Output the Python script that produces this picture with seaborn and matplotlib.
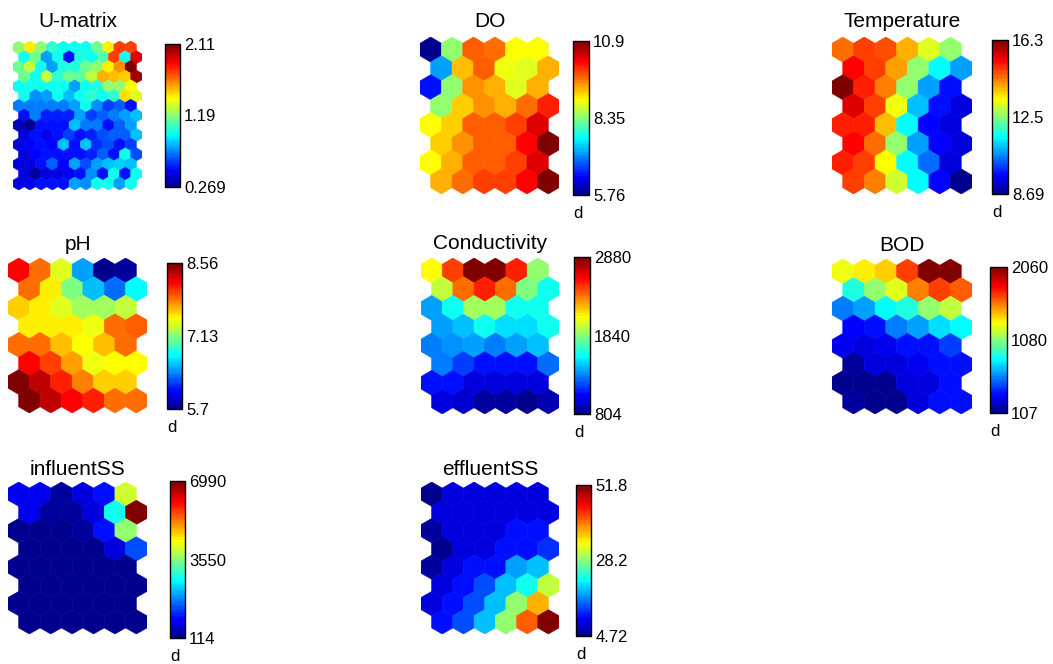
import numpy as np
import matplotlib
matplotlib.use("Agg")
import matplotlib.pyplot as plt
from matplotlib.collections import PolyCollection
from matplotlib.colors import LinearSegmentedColormap, ListedColormap, Normalize
import seaborn as sns

# ---------------- data ----------------
titles = ["U-matrix", "DO", "Temperature", "pH", "Conductivity", "BOD",
          "influentSS", "effluentSS"]

umatrix = [
    [1.19, 1.42, 1.19, 1.04, 0.96, 0.96, 0.96, 1.15, 1.42, 1.74, 1.74],
    [0.96, 1.15, 0.78, 0.96, 0.51, 1.01, 0.96, 1.10, 1.74, 0.96, 1.93],
    [1.15, 1.30, 0.96, 0.78, 1.01, 1.01, 1.15, 1.19, 1.42, 1.61, 2.11],
    [1.15, 0.96, 1.30, 1.04, 1.15, 1.13, 1.28, 1.56, 1.52, 1.48, 2.05],
    [0.96, 0.96, 0.96, 0.96, 0.96, 0.78, 0.96, 1.01, 1.19, 1.19, 1.41],
    [0.96, 0.73, 0.78, 0.96, 0.82, 0.96, 1.04, 0.96, 1.04, 1.45, 1.34],
    [0.71, 0.71, 0.71, 0.71, 0.71, 0.78, 0.96, 0.73, 0.60, 0.67, 0.51],
    [0.51, 0.71, 0.55, 0.55, 0.55, 0.77, 0.60, 0.67, 0.71, 0.77, 0.82],
    [0.36, 0.269, 0.51, 0.51, 0.51, 0.82, 0.71, 0.71, 0.51, 0.67, 0.78],
    [0.42, 0.51, 0.45, 0.51, 0.60, 0.51, 0.55, 0.64, 0.67, 0.67, 0.82],
    [0.43, 0.49, 0.51, 0.49, 0.82, 0.51, 0.82, 0.56, 0.64, 0.51, 0.60],
    [0.43, 0.49, 0.51, 0.51, 0.51, 0.51, 0.55, 0.67, 0.51, 0.96, 0.64],
    [0.43, 0.43, 0.51, 0.67, 0.49, 0.77, 0.64, 0.77, 0.82, 0.86, 0.84],
    [0.43, 0.31, 0.43, 0.43, 0.45, 0.51, 0.75, 0.51, 0.96, 0.51, 0.96],
    [0.43, 0.45, 0.51, 0.51, 0.51, 0.78, 0.75, 0.97, 0.96, 0.78, 0.96],
]

do_vals = [
    [5.76, 8.33, 9.77, 9.62, 8.97, 8.97],
    [7.15, 9.26, 9.77, 8.84, 8.74, 9.36],
    [6.43, 8.33, 9.51, 9.36, 8.74, 9.36],
    [8.33, 9.20, 9.51, 9.36, 9.62, 10.03],
    [8.97, 9.20, 9.77, 9.77, 9.87, 10.39],
    [9.20, 9.51, 9.77, 9.77, 10.23, 10.90],
    [8.97, 9.36, 9.77, 9.77, 9.87, 10.39],
    [9.36, 9.62, 9.87, 9.87, 10.23, 10.85],
]

temperature = [
    [14.4, 14.8, 14.7, 14.0, 13.1, 12.5],
    [15.3, 14.8, 14.1, 12.5, 11.5, 10.8],
    [16.3, 15.0, 14.3, 12.5, 10.8, 9.68],
    [15.5, 14.8, 13.3, 11.0, 9.68, 9.30],
    [15.0, 15.0, 13.9, 11.5, 9.60, 9.30],
    [15.3, 14.4, 12.5, 10.8, 9.60, 9.30],
    [15.0, 14.8, 13.4, 11.5, 10.4, 9.30],
    [14.8, 14.3, 13.0, 11.5, 9.60, 8.69],
]

ph = [
    [8.19, 7.85, 7.36, 6.50, 5.70, 5.76],
    [7.85, 7.50, 7.13, 6.56, 6.33, 6.77],
    [7.62, 7.49, 7.36, 7.19, 7.19, 7.30],
    [7.49, 7.49, 7.49, 7.44, 7.85, 7.90],
    [7.85, 7.85, 7.64, 7.47, 7.64, 7.85],
    [8.19, 7.99, 7.73, 7.44, 7.47, 7.47],
    [8.56, 8.36, 8.07, 7.82, 7.62, 7.62],
    [8.56, 8.36, 8.19, 8.07, 7.85, 7.87],
]

conductivity = [
    [2101, 2465, 2880, 2880, 2527, 1842],
    [1967, 2361, 2527, 2361, 1821, 1583],
    [1385, 1583, 1884, 1884, 1583, 1583],
    [1365, 1448, 1583, 1510, 1510, 1583],
    [1302, 1323, 1365, 1302, 1385, 1448],
    [1302, 1178, 1074, 1074, 1074, 1281],
    [1074, 1074, 970, 970, 970, 970],
    [970, 949, 846, 846, 804, 887],
]

bod = [
    [1279, 1328, 1416, 1669, 2060, 2060],
    [888, 1084, 1259, 1552, 1669, 1630],
    [595, 654, 839, 888, 1084, 1201],
    [322, 361, 576, 654, 771, 839],
    [302, 283, 302, 361, 361, 459],
    [146, 283, 283, 302, 361, 361],
    [115, 107, 125, 283, 283, 361],
    [140, 112, 118, 263, 361, 361],
]

influent_ss = [
    [802, 802, 320, 733, 1008, 4033],
    [802, 320, 320, 733, 2693, 6990],
    [200, 190, 200, 260, 1008, 3552],
    [190, 180, 200, 210, 664, 1489],
    [114, 150, 180, 160, 170, 200],
    [140, 130, 160, 170, 190, 210],
    [150, 140, 170, 160, 180, 200],
    [160, 150, 170, 180, 190, 210],
]

effluent_ss = [
    [4.72, 8.96, 8.96, 8.96, 8.96, 8.96],
    [8.96, 8.96, 8.96, 8.96, 8.96, 8.96],
    [5.66, 8.96, 8.96, 8.96, 10.8, 10.8],
    [5.20, 8.49, 8.49, 10.8, 10.8, 12.7],
    [5.66, 8.96, 10.8, 10.8, 17.4, 19.3],
    [8.49, 10.8, 14.1, 19.3, 23.0, 31.1],
    [8.96, 10.8, 14.1, 19.3, 28.3, 37.2],
    [10.8, 14.1, 19.3, 28.3, 41.4, 51.8],
]

tick_labels = [
    ["0.269", "1.19", "2.11"],
    ["5.76", "8.35", "10.9"],
    ["8.69", "12.5", "16.3"],
    ["5.7", "7.13", "8.56"],
    ["804", "1840", "2880"],
    ["107", "1080", "2060"],
    ["114", "3550", "6990"],
    ["4.72", "28.2", "51.8"],
]
show_d = [False, True, True, True, True, True, True, True]

planes = [umatrix, do_vals, temperature, ph, conductivity, bod,
          influent_ss, effluent_ss]

# ---------------- layout (pixels: left, top, width, height) ----------------
hex_boxes = [(13, 41, 129, 149), (420, 37, 139, 157), (832, 37, 140, 157),
             (8, 258, 139, 155), (421, 258, 138, 156), (832, 259, 140, 155),
             (8, 482, 139, 152), (421, 482, 138, 152)]
cb_boxes = [(165, 44, 15, 143), (573, 41, 16, 154), (992, 40, 16, 154),
            (167, 263, 15, 146), (574, 257, 16, 157), (990, 267, 17, 146),
            (170, 481, 15, 157), (576, 485, 15, 151)]
title_base = [27, 27, 27, 250, 249, 251, 475, 475]

sns.set_theme(style="white")
plt.rcParams['font.family'] = ['Liberation Sans', 'DejaVu Sans']

W, H = 1053, 664
fig = plt.figure(figsize=(W / 100, H / 100), dpi=100)
fig.patch.set_facecolor("white")


def px_rect(l, t, w, h):
    return [l / W, 1 - (t + h) / H, w / W, h / H]


# MATLAB-style jet(64)
anchors = [(0.0, (0, 0, 0.5625)), (7 / 63, (0, 0, 1)), (23 / 63, (0, 1, 1)),
           (39 / 63, (1, 1, 0)), (55 / 63, (1, 0, 0)), (1.0, (0.5, 0, 0))]
base = LinearSegmentedColormap.from_list("mjet", anchors)
pal = sns.color_palette([base(i / 63) for i in range(64)])
cmap = ListedColormap(pal)

R = 1 / np.sqrt(3)
ang = np.deg2rad(90 + 60 * np.arange(6))
unit_hex = np.column_stack([R * np.cos(ang), R * np.sin(ang)])

for i, data in enumerate(planes):
    arr = np.asarray(data, dtype=float)
    nr, nc = arr.shape
    verts, vals = [], []
    for r in range(nr):
        for c in range(nc):
            cx = c + 0.5 * (r % 2)
            cy = -r * np.sqrt(3) / 2
            verts.append(unit_hex + [cx, cy])
            vals.append(arr[r, c])
    vmin, vmax = arr.min(), arr.max()
    norm = Normalize(vmin=vmin, vmax=vmax)
    ax = fig.add_axes(px_rect(*hex_boxes[i]))
    pc = PolyCollection(verts, array=np.array(vals), cmap=cmap, norm=norm,
                        edgecolors="face", linewidths=0.4)
    ax.add_collection(pc)
    ax.set_xlim(-0.5, nc)
    ax.set_ylim(-(nr - 1) * np.sqrt(3) / 2 - R, R)
    ax.set_axis_off()

    l, t, w, h = hex_boxes[i]
    fig.text((l + w / 2) / W, 1 - title_base[i] / H, titles[i],
             ha="center", va="baseline", fontsize=15, color="black")

    cl, ct, cw, ch = cb_boxes[i]
    cax = fig.add_axes(px_rect(cl, ct, cw, ch))
    cb = fig.colorbar(pc, cax=cax, ticks=[vmin, (vmin + vmax) / 2, vmax])
    cb.ax.set_yticklabels(tick_labels[i])
    cb.outline.set_linewidth(1.0)
    cb.outline.set_edgecolor("black")
    cax.tick_params(axis="y", which="both", direction="in", length=3,
                    width=0.8, left=True, right=True, labelleft=False,
                    labelright=True, labelsize=12, pad=3, colors="black")
    if show_d[i]:
        fig.text(cl / W, 1 - (ct + ch + 23) / H, "d", ha="left",
                 va="baseline", fontsize=12, color="black")

fig.savefig("out.png", dpi=100, facecolor="white")
